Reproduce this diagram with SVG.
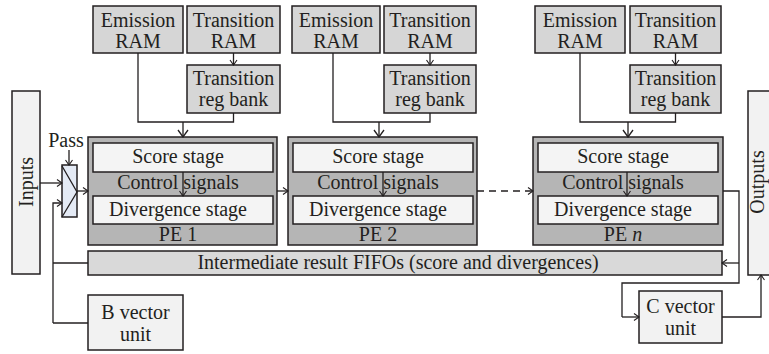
<svg xmlns="http://www.w3.org/2000/svg" width="769" height="354" viewBox="0 0 769 354">
<style>
text{font-family:"Liberation Serif","Times New Roman",serif;font-size:20px;fill:#231f20;text-anchor:middle}
.ram{fill:#d6d6d6;stroke:#231f20;stroke-width:1.5}
.pe{fill:#b5b5b5;stroke:#231f20;stroke-width:1.5}
.stage{fill:#f4f4f4;stroke:#231f20;stroke-width:1.5}
.light{fill:#f2f2f2;stroke:#231f20;stroke-width:1.5}
.bar{fill:#d9d9d9;stroke:#231f20;stroke-width:1.5}
.mux{fill:#e4eaf5;stroke:#231f20;stroke-width:1.5}
.ln{fill:none;stroke:#231f20;stroke-width:1.3}
.big{marker-end:url(#ab)}
.sm{marker-end:url(#as)}
</style>
<defs>
<marker id="ab" markerUnits="userSpaceOnUse" markerWidth="12" markerHeight="12" viewBox="0 0 12 12" refX="11" refY="6" orient="auto"><path d="M4,1 L11,6 L4,11" fill="none" stroke="#231f20" stroke-width="1.3"/></marker>
<marker id="as" markerUnits="userSpaceOnUse" markerWidth="10" markerHeight="10" viewBox="0 0 10 10" refX="9" refY="5" orient="auto"><path d="M4,1.5 L9,5 L4,8.5" fill="none" stroke="#231f20" stroke-width="1.1"/></marker>
</defs>

<g id="inputs"><rect class="light" x="12" y="91" width="28" height="183"/><text transform="translate(33,182) rotate(-90)">Inputs</text></g>
<g id="outputs"><rect class="light" x="748" y="91" width="30" height="184"/><text transform="translate(764,182) rotate(-90)">Outputs</text></g>

<g id="mux"><rect class="mux" x="62" y="165" width="15" height="52"/><path class="ln" d="M62,166 L77,192 L62,217"/></g>
<g id="pass"><text x="66" y="147">Pass</text></g>

<!-- PE1 column -->
<g id="emission1"><rect class="ram" x="93" y="6" width="90" height="47"/><text x="138" y="27">Emission</text><text x="138" y="48">RAM</text></g>
<g id="transram1"><rect class="ram" x="187" y="6" width="93" height="47"/><text x="233.5" y="27">Transition</text><text x="233.5" y="48">RAM</text></g>
<g id="regbank1"><rect class="ram" x="187" y="65" width="93" height="48"/><text x="233.5" y="85">Transition</text><text x="233.5" y="106">reg bank</text></g>
<g id="pe1"><rect class="pe" x="88" y="137" width="189" height="108"/><rect class="stage" x="93" y="143" width="180" height="29"/><rect class="stage" x="93" y="196" width="180" height="28"/><text x="178" y="163">Score stage</text><text x="178" y="189">Control signals</text><text x="178" y="216">Divergence stage</text><text x="178" y="241">PE 1</text></g>

<!-- PE2 column -->
<g id="emission2"><rect class="ram" x="292" y="6" width="88" height="47"/><text x="336" y="27">Emission</text><text x="336" y="48">RAM</text></g>
<g id="transram2"><rect class="ram" x="384" y="6" width="92" height="47"/><text x="430" y="27">Transition</text><text x="430" y="48">RAM</text></g>
<g id="regbank2"><rect class="ram" x="384" y="65" width="92" height="48"/><text x="430" y="85">Transition</text><text x="430" y="106">reg bank</text></g>
<g id="pe2"><rect class="pe" x="288" y="137" width="189" height="108"/><rect class="stage" x="293" y="143" width="180" height="29"/><rect class="stage" x="293" y="196" width="180" height="28"/><text x="378" y="163">Score stage</text><text x="378" y="189">Control signals</text><text x="378" y="216">Divergence stage</text><text x="378" y="241">PE 2</text></g>

<!-- PEn column -->
<g id="emissionn"><rect class="ram" x="535" y="6" width="90" height="47"/><text x="580" y="27">Emission</text><text x="580" y="48">RAM</text></g>
<g id="transramn"><rect class="ram" x="630" y="6" width="91" height="47"/><text x="675.5" y="27">Transition</text><text x="675.5" y="48">RAM</text></g>
<g id="regbankn"><rect class="ram" x="630" y="65" width="91" height="48"/><text x="675.5" y="85">Transition</text><text x="675.5" y="106">reg bank</text></g>
<g id="pen"><rect class="pe" x="533" y="137" width="190" height="108"/><rect class="stage" x="538" y="143" width="180" height="29"/><rect class="stage" x="538" y="196" width="180" height="28"/><text x="623" y="163">Score stage</text><text x="623" y="189">Control signals</text><text x="623" y="216">Divergence stage</text><text x="623" y="241">PE <tspan font-style="italic">n</tspan></text></g>

<g id="fifo"><rect class="bar" x="88" y="251" width="634" height="24"/><text x="398" y="269">Intermediate result FIFOs (score and divergences)</text></g>
<g id="bvector"><rect class="light" x="88" y="295" width="95" height="55"/><text x="135.5" y="319">B vector</text><text x="135.5" y="341">unit</text></g>
<g id="cvector"><rect class="light" x="639" y="291" width="83" height="52"/><text x="680.5" y="313">C vector</text><text x="680.5" y="335">unit</text></g>

<g id="connectors">
<!-- column 1 -->
<path class="ln sm" d="M233.5,53 V65"/>
<path class="ln" d="M138,53 V122 H233.5 V113"/>
<path class="ln big" d="M183,122 V137"/>
<path class="ln sm" d="M183,172 V196"/>
<!-- column 2 -->
<path class="ln sm" d="M430,53 V65"/>
<path class="ln" d="M333,53 V122 H430 V113"/>
<path class="ln big" d="M379,122 V137"/>
<path class="ln sm" d="M383,172 V196"/>
<!-- column n -->
<path class="ln sm" d="M675.5,53 V65"/>
<path class="ln" d="M580,53 V122 H675.5 V113"/>
<path class="ln big" d="M628,122 V137"/>
<path class="ln sm" d="M627,172 V196"/>
<!-- chain -->
<path class="ln sm" d="M69,150 V165"/>
<path class="ln sm" d="M40,183 H62"/>
<path class="ln sm" d="M53,323 V203 H62"/>
<path class="ln" d="M53,263 H88"/>
<path class="ln" d="M53,323 H88"/>
<path class="ln sm" d="M77,191 H88"/>
<path class="ln sm" d="M277,191 H288"/>
<path class="ln sm" d="M477,191 H533" stroke-dasharray="7,5"/>
<path class="ln" d="M723,191 H739 V283 H622 V317"/>
<path class="ln sm" d="M622,317 H639"/>
<path class="ln sm" d="M739,263 H722"/>
<path class="ln sm" d="M722,317 H761 V275"/>
</g>
</svg>
